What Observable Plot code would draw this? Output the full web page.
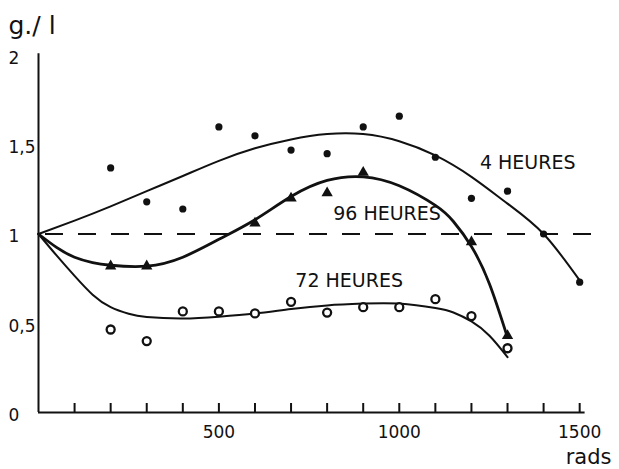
<!DOCTYPE html>
<html>
<head>
<meta charset="utf-8">
<script src="https://cdn.jsdelivr.net/npm/d3@7"></script>
<script src="https://cdn.jsdelivr.net/npm/@observablehq/plot@0.6"></script>
<style>
  body { margin: 0; background: #fff; }
  #chart svg { display: block; }
</style>
</head>
<body>
<div id="chart"></div>
<script>
// ---- data ----
const yTitle = "g./ l";
const xTitle = "rads";
const yTickValues = [0, 0.5, 1, 1.5, 2];
const yTickLabels = ["0", "0,5", "1", "1,5", "2"];
const xTickValues = [100, 200, 300, 400, 500, 600, 700, 800, 900, 1000, 1100, 1200, 1300, 1400, 1500];
const xLabelValues = [500, 1000, 1500];
const xLabelTexts = ["500", "1000", "1500"];
const referenceLevel = 1;
const xExtent = [0, 1515];
const yExtent = [0, 2.01];
const dashExtent = [0, 1535];

// measured points
const doses4 = [200, 300, 400, 500, 600, 700, 800, 900, 1000, 1100, 1200, 1300, 1400, 1500];
const values4 = [1.37, 1.18, 1.14, 1.60, 1.55, 1.47, 1.45, 1.60, 1.66, 1.43, 1.20, 1.24, 1.00, 0.73];
const doses96 = [200, 300, 600, 700, 800, 900, 1200, 1300];
const values96 = [0.82, 0.82, 1.06, 1.20, 1.23, 1.345, 0.955, 0.43];
const doses72 = [200, 300, 400, 500, 600, 700, 800, 900, 1000, 1100, 1200, 1300];
const values72 = [0.465, 0.40, 0.566, 0.566, 0.555, 0.62, 0.56, 0.59, 0.59, 0.635, 0.54, 0.36];

// fitted curves
const fit4X = [0, 100, 200, 300, 400, 500, 600, 700, 800, 900, 1000, 1100, 1200, 1300, 1400, 1500];
const fit4Y = [1.00, 1.075, 1.155, 1.24, 1.325, 1.41, 1.48, 1.53, 1.56, 1.56, 1.52, 1.44, 1.32, 1.17, 1.00, 0.74];
const fit96X = [0, 50, 100, 150, 200, 300, 400, 500, 600, 700, 800, 900, 1000, 1100, 1150, 1200, 1250, 1300];
const fit96Y = [1.00, 0.925, 0.87, 0.84, 0.825, 0.82, 0.87, 0.97, 1.08, 1.21, 1.30, 1.32, 1.27, 1.16, 1.07, 0.93, 0.72, 0.42];
const fit72X = [0, 50, 100, 150, 200, 250, 300, 400, 500, 600, 700, 800, 900, 1000, 1100, 1150, 1200, 1250, 1300];
const fit72Y = [1.00, 0.88, 0.765, 0.66, 0.59, 0.553, 0.535, 0.527, 0.537, 0.555, 0.58, 0.60, 0.61, 0.61, 0.585, 0.56, 0.51, 0.43, 0.31];

// series labels and their anchor (data coordinates)
const seriesLabels = ["4 HEURES", "96 HEURES", "72 HEURES"];
const labelX = [1356, 966, 861];
const labelY = [1.40, 1.115, 0.74];

// ---- build tables ----
const zip = (xs, ys) => xs.map((x, i) => ({x, y: ys[i]}));
const pts4 = zip(doses4, values4);
const pts96 = zip(doses96, values96);
const pts72 = zip(doses72, values72);
const line4 = zip(fit4X, fit4Y);
const line96 = zip(fit96X, fit96Y);
const line72 = zip(fit72X, fit72Y);
const yTicks = yTickValues.map((v, i) => ({v, t: yTickLabels[i]}));
const xLabels = xLabelValues.map((v, i) => ({v, t: xLabelTexts[i]}));
const labels = seriesLabels.map((t, i) => ({t, x: labelX[i], y: labelY[i]}));

const ink = "#111";
const font = "DejaVu Sans";

const chart = Plot.plot({
  width: 619,
  height: 469,
  marginLeft: 38,
  marginRight: 29,
  marginTop: 55,
  marginBottom: 57,
  x: {domain: [0, 1530], axis: null},
  y: {domain: [0, 2], axis: null},
  style: {fontFamily: font, background: "#fff", color: ink},
  marks: [
    // dashed reference line
    Plot.ruleY([referenceLevel], {x1: dashExtent[0], x2: dashExtent[1], stroke: ink, strokeWidth: 2, strokeDasharray: "18,15", strokeDashoffset: -7}),
    // axes
    Plot.ruleX([xExtent[0]], {y1: yExtent[0], y2: yExtent[1], stroke: ink, strokeWidth: 2}),
    Plot.ruleY([yExtent[0]], {x1: xExtent[0], x2: xExtent[1], stroke: ink, strokeWidth: 2}),
    // upward tick marks
    Plot.ruleX(xTickValues, {x: d => d, y1: 0, y2: 0, insetBottom: 9, stroke: ink, strokeWidth: 2}),
    // tick labels
    Plot.text(xLabels, {x: "v", y: 0, text: "t", dy: 20, fontSize: 17, fill: ink}),
    Plot.text(yTicks, {x: 0, y: "v", text: "t", textAnchor: "start", dx: -30, dy: 3, fontSize: 17, fill: ink}),
    // axis titles
    Plot.text([yTitle], {x: 0, y: 2, text: d => d, textAnchor: "start", dx: -30, dy: -30, fontSize: 25, fill: ink}),
    Plot.text([xTitle], {x: 1530, y: 0, text: d => d, textAnchor: "end", dx: 21, dy: 45, fontSize: 21, fill: ink}),
    // fitted curves
    Plot.line(line4, {x: "x", y: "y", curve: "natural", stroke: ink, strokeWidth: 2}),
    Plot.line(line96, {x: "x", y: "y", curve: "natural", stroke: ink, strokeWidth: 2.8}),
    Plot.line(line72, {x: "x", y: "y", curve: "natural", stroke: ink, strokeWidth: 2}),
    // points
    Plot.dot(pts4, {x: "x", y: "y", r: 3.6, fill: ink, stroke: null}),
    Plot.dot(pts96, {x: "x", y: "y", symbol: "triangle", r: 4.2, fill: ink, stroke: null}),
    Plot.dot(pts72, {x: "x", y: "y", r: 4, fill: "#fff", stroke: ink, strokeWidth: 2.3}),
    // series labels
    Plot.text(labels, {x: "x", y: "y", text: "t", fontSize: 19, fill: ink})
  ]
});
document.getElementById("chart").appendChild(chart);
</script>
</body>
</html>
